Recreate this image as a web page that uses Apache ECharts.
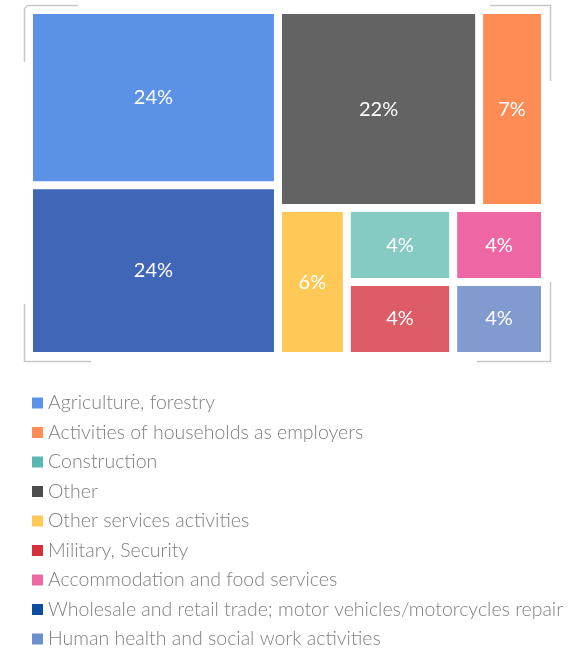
<!DOCTYPE html>
<html><head><meta charset="utf-8">
<script src="https://cdn.jsdelivr.net/npm/echarts@6/dist/echarts.min.js"></script>
<style>html,body{margin:0;padding:0;background:#fff}#c{width:578px;height:650px}</style>
</head><body><div id="c"></div>
<script>
const categories = [
  'Agriculture, forestry',
  'Activities of households as employers',
  'Construction',
  'Other',
  'Other services activities',
  'Military, Security',
  'Accommodation and food services',
  'Wholesale and retail trade; motor vehicles/motorcycles repair',
  'Human health and social work activities'
];
const values = [24.4, 7.3, 4.4, 22.3, 5.7, 4.4, 3.8, 23.8, 3.8];
const cellColors = ['#5b92e5','#ff8c55','#85cac3','#636363','#ffc857','#de5c66','#ee66a3','#4066b8','#819bd0'];
const legendColors = ['#5b93e6','#ff8c55','#5bb8b0','#4d4d4d','#ffc857','#d62e3a','#ef66a4','#0b4c9e','#6a8fcd'];
// grouping of category indexes that reproduces the tile arrangement
const tileGroups = [[0, 7], [[3, 1], [4, [[2, 5], [6, 8]]]]];

let gid = 0;
function build(g) {
  if (typeof g === 'number') {
    return {
      name: categories[g],
      value: values[g],
      itemStyle: { color: cellColors[g], borderWidth: 4, borderColor: '#fff' }
    };
  }
  gid++;
  return { name: 'group' + gid, children: g.map(build), itemStyle: { borderWidth: 0, gapWidth: 0 } };
}
const treeData = tileGroups.map(build);

const chart = echarts.init(document.getElementById('c'), null, { renderer: 'canvas' });
const bracketStyle = { fill: 'none', stroke: '#c8c8c8', lineWidth: 1.5 };
chart.setOption({
  animation: false,
  legend: {
    orient: 'vertical', left: 32, top: 393, padding: 0, height: 290,
    itemWidth: 11, itemHeight: 11, itemGap: 9.5, icon: 'rect',
    selectedMode: false,
    textStyle: { color: '#7f7f7f', fontSize: 19.5, fontWeight: 300, fontFamily: 'Lato', lineHeight: 19 },
    data: categories
  },
  graphic: [
    { type: 'polyline', silent: true, shape: { points: [[78, 5.5], [27.5, 5.5], [24.5, 8.5], [24.5, 62]] }, style: bracketStyle },
    { type: 'polyline', silent: true, shape: { points: [[490, 5.5], [550.5, 5.5], [550.5, 81]] }, style: bracketStyle },
    { type: 'polyline', silent: true, shape: { points: [[24.5, 304], [24.5, 361.5], [91, 361.5]] }, style: bracketStyle },
    { type: 'polyline', silent: true, shape: { points: [[550.5, 282], [550.5, 361.5], [477, 361.5]] }, style: bracketStyle }
  ],
  series: [
    {
      type: 'treemap',
      left: 29, top: 10, width: 516, height: 346,
      roam: false, nodeClick: false, sort: false, squareRatio: 1,
      breadcrumb: { show: false },
      itemStyle: { borderWidth: 0, gapWidth: 0, borderColor: '#fff' },
      label: {
        show: true, position: 'inside', color: '#fff', fontSize: 20, fontFamily: 'Lato',
        formatter: p => Math.round(p.value) + '%'
      },
      emphasis: { disabled: true },
      data: treeData
    },
    {
      type: 'pie', silent: true, radius: 1, center: [-50, -50],
      label: { show: false }, labelLine: { show: false },
      data: categories.map((n, i) => ({ name: n, value: 1, itemStyle: { color: legendColors[i] } }))
    }
  ]
});
</script></body></html>
